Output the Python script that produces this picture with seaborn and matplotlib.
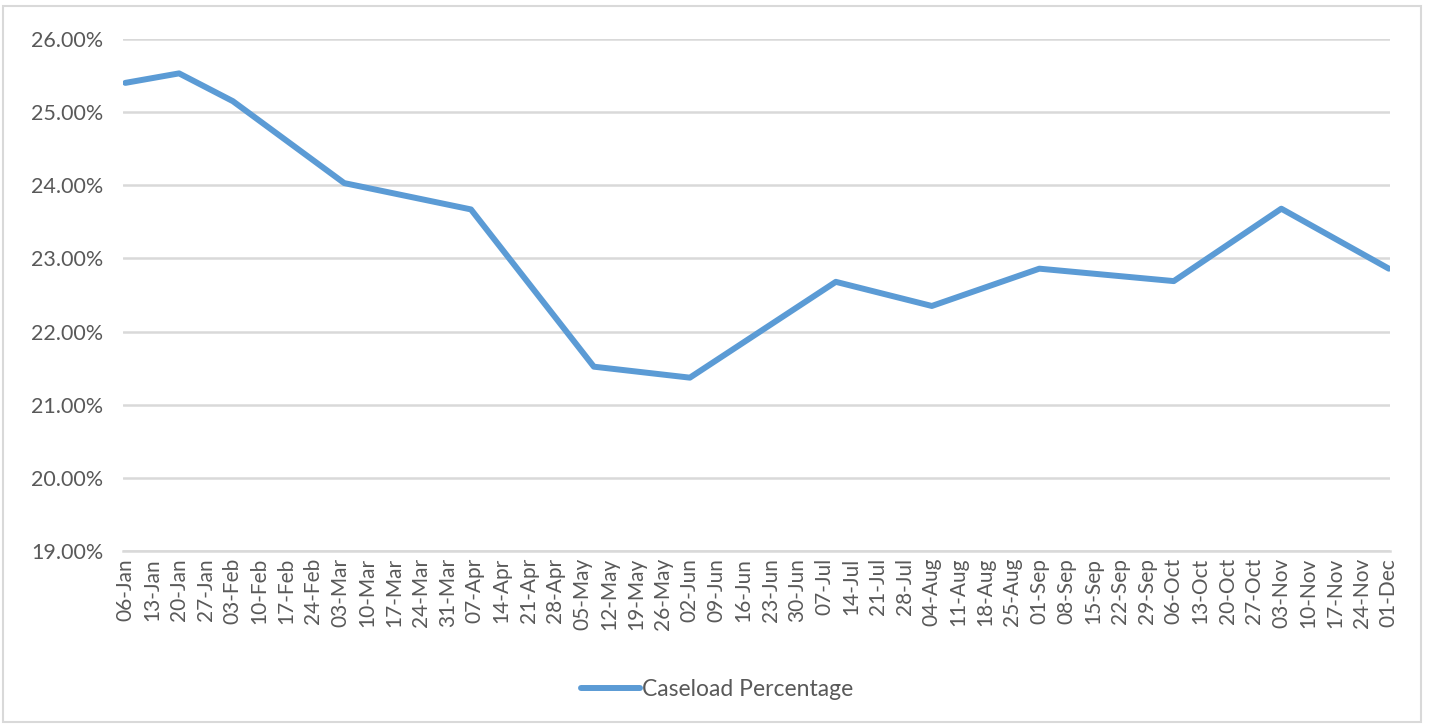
import matplotlib
matplotlib.use("Agg")
import matplotlib.pyplot as plt
import seaborn as sns
import pandas as pd
from matplotlib.patches import Rectangle

# Data
dates = ["2019-01-06", "2019-01-20", "2019-02-03", "2019-03-04", "2019-04-06",
         "2019-05-08", "2019-06-02", "2019-07-10", "2019-08-04", "2019-09-01",
         "2019-10-06", "2019-11-03", "2019-12-01"]
caseload_pct = [25.40, 25.53, 25.15, 24.03, 23.67, 21.52, 21.37, 22.68,
                22.35, 22.86, 22.69, 23.68, 22.86]
series_name = "Caseload Percentage"
tick_start, tick_end = "2019-01-06", "2019-12-01"
y_ticks = [19, 20, 21, 22, 23, 24, 25, 26]

df = pd.DataFrame({"date": pd.to_datetime(dates), "value": caseload_pct,
                   "series": series_name})

sns.set_theme(style="white")
plt.rcParams['font.family'] = ['Lato', 'DejaVu Sans']

fig = plt.figure(figsize=(14.29, 7.25), dpi=100)
ax = fig.add_axes([123 / 1429, 1 - 551 / 725, (1390 - 123) / 1429, (551 - 39) / 725])

sns.lineplot(data=df, x="date", y="value", hue="series", palette=["#5B9BD5"],
             linewidth=4.3, ax=ax, legend=True)
ax.lines[0].set_solid_capstyle("round")
ax.lines[0].set_solid_joinstyle("round")

ticks = pd.date_range(tick_start, tick_end, freq="7D")
ax.set_xticks(ticks)
ax.set_xticklabels([t.strftime("%d-%b") for t in ticks], rotation=90,
                   fontsize=15, color="#595959")
ax.set_xlim(pd.Timestamp(tick_start) - pd.Timedelta(days=0.6),
            pd.Timestamp(tick_end) + pd.Timedelta(days=0.3))
ax.set_ylim(19, 26)
ax.set_yticks(y_ticks)
ax.set_yticklabels([f"{v:.2f}%" for v in y_ticks], fontsize=15.5, color="#595959")
ax.tick_params(axis="both", length=0)
ax.tick_params(axis="x", pad=5)
ax.tick_params(axis="y", pad=14)
ax.grid(axis="y", color="#D9D9D9", linewidth=1.8)
ax.set_axisbelow(True)
for s in ["top", "right", "left"]:
    ax.spines[s].set_visible(False)
ax.spines["bottom"].set_color("#D9D9D9")
ax.spines["bottom"].set_linewidth(1.8)
ax.set_xlabel("")
ax.set_ylabel("")

handles, labels = ax.get_legend_handles_labels()
ax.get_legend().remove() if ax.get_legend() else None
leg = fig.legend(handles, labels, loc="center",
                 bbox_to_anchor=(717 / 1429, 1 - 690 / 725), frameon=False,
                 fontsize=16.5, handlelength=2.6, handletextpad=0.08)
for t in leg.get_texts():
    t.set_color("#595959")
for h in leg.get_lines():
    h.set_linewidth(4.3)

fig.patches.append(Rectangle((3 / 1429, 3 / 725), 1418 / 1429, 716 / 725,
                             transform=fig.transFigure, fill=False,
                             edgecolor="#D9D9D9", linewidth=1.5))

fig.savefig("out.png", dpi=100, facecolor="white")
